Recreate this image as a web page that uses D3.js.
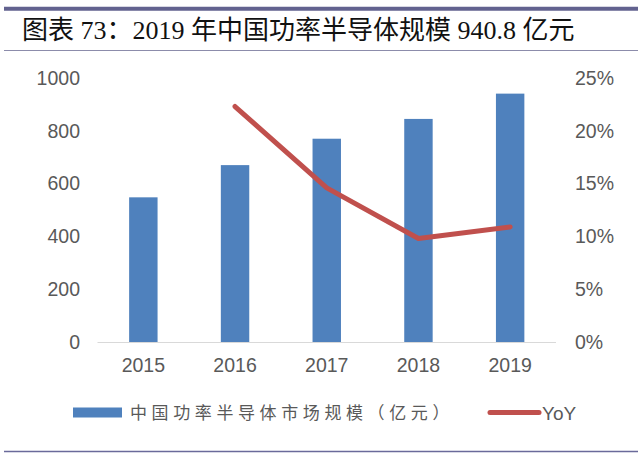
<!DOCTYPE html>
<html>
<head>
<meta charset="utf-8">
<script src="https://cdn.jsdelivr.net/npm/d3@7"></script>
<style>
  body { margin: 0; background: #fff; }
  svg { display: block; }
  .tick text { fill: #595959; font-family: "Liberation Sans", Arial, sans-serif; font-size: 19.5px; }
</style>
</head>
<body>
<svg id="chart" width="640" height="455"></svg>
<script>
let title = "图表 73：2019 年中国功率半导体规模 940.8 亿元";
let years = ["2015", "2016", "2017", "2018", "2019"];
let market = [548, 670, 770, 845, 940.8];          // 亿元
let yoy = [null, 22.3, 14.6, 9.8, 10.9];           // %
let left_ticks = [0, 200, 400, 600, 800, 1000];
let right_ticks = [0, 5, 10, 15, 20, 25];
let bar_name = "中国功率半导体市场规模（亿元）";
let line_name = "YoY";

let svg = d3.select("#chart");
let margin = { top: 78, bottom: 342, left: 97.5, right: 556 };

// frame lines round the title and chart
svg.append("line").attr("x1", 4).attr("x2", 638).attr("y1", 8.7).attr("y2", 8.7)
    .attr("stroke", "#62628f").attr("stroke-width", 4);
svg.append("line").attr("x1", 4).attr("x2", 638).attr("y1", 50.5).attr("y2", 50.5)
    .attr("stroke", "#8c8cab").attr("stroke-width", 1);
svg.append("line").attr("x1", 4).attr("x2", 638).attr("y1", 451.5).attr("y2", 451.5)
    .attr("stroke", "#6a6a9a").attr("stroke-width", 1.5);

svg.append("text")
    .attr("x", 22).attr("y", 38.5)
    .style("font-family", "'Liberation Serif', 'Noto Sans CJK SC', serif")
    .style("font-size", "26px")
    .style("fill", "#111")
    .text(title);

let x = d3.scaleBand()
    .domain(years)
    .range([margin.left, margin.right])
    .paddingInner(0.69)
    .paddingOuter(0.345);

let y = d3.scaleLinear().domain([0, 1000]).range([margin.bottom, margin.top]);
let y2 = d3.scaleLinear().domain([0, 25]).range([margin.bottom, margin.top]);

// bars
svg.append("g").selectAll("rect")
    .data(years.map((d, i) => ({ year: d, value: market[i] })))
    .enter().append("rect")
    .attr("x", d => x(d.year))
    .attr("y", d => y(d.value))
    .attr("width", x.bandwidth())
    .attr("height", d => y(0) - y(d.value))
    .attr("fill", "#4f81bd");

// axes
let y_axis = d3.axisLeft(y).tickValues(left_ticks).tickSize(0).tickPadding(0)
    .tickFormat(d3.format("d"));
svg.append("g").attr("transform", "translate(80,0)").call(y_axis)
    .call(g => g.select(".domain").remove());

let y2_axis = d3.axisRight(y2).tickValues(right_ticks).tickSize(0).tickPadding(0)
    .tickFormat(d => d + "%");
svg.append("g").attr("transform", "translate(575,0)").call(y2_axis)
    .call(g => g.select(".domain").remove());

let x_axis = d3.axisBottom(x).tickSize(0).tickPadding(16);
svg.append("g").attr("transform", `translate(0,${margin.bottom})`).call(x_axis)
    .call(g => g.select(".domain").attr("stroke", "#d9d9d9").attr("d", `M${margin.left},0.5H${margin.right}`));

// yoy line
let line = d3.line()
    .defined(d => d.value != null)
    .x(d => x(d.year) + x.bandwidth() / 2)
    .y(d => y2(d.value));
svg.append("path")
    .datum(years.map((d, i) => ({ year: d, value: yoy[i] })))
    .attr("d", line)
    .attr("fill", "none")
    .attr("stroke", "#c0504d")
    .attr("stroke-width", 5)
    .attr("stroke-linecap", "round")
    .attr("stroke-linejoin", "round");

// legend
let legend = svg.append("g");
legend.append("rect").attr("x", 73).attr("y", 407.5).attr("width", 49).attr("height", 10)
    .attr("fill", "#4f81bd");
legend.append("text").attr("x", 130).attr("y", 419)
    .style("font-family", "'Noto Sans CJK SC', sans-serif")
    .style("font-size", "17px")
    .style("letter-spacing", "4.6px")
    .style("fill", "#595959")
    .text(bar_name);
legend.append("line").attr("x1", 490).attr("x2", 539).attr("y1", 412.5).attr("y2", 412.5)
    .attr("stroke", "#c0504d").attr("stroke-width", 5).attr("stroke-linecap", "round");
legend.append("text").attr("x", 542).attr("y", 419.5)
    .style("font-family", "'Liberation Sans', Arial, sans-serif")
    .style("font-size", "19px")
    .style("fill", "#595959")
    .text(line_name);
</script>
</body>
</html>
